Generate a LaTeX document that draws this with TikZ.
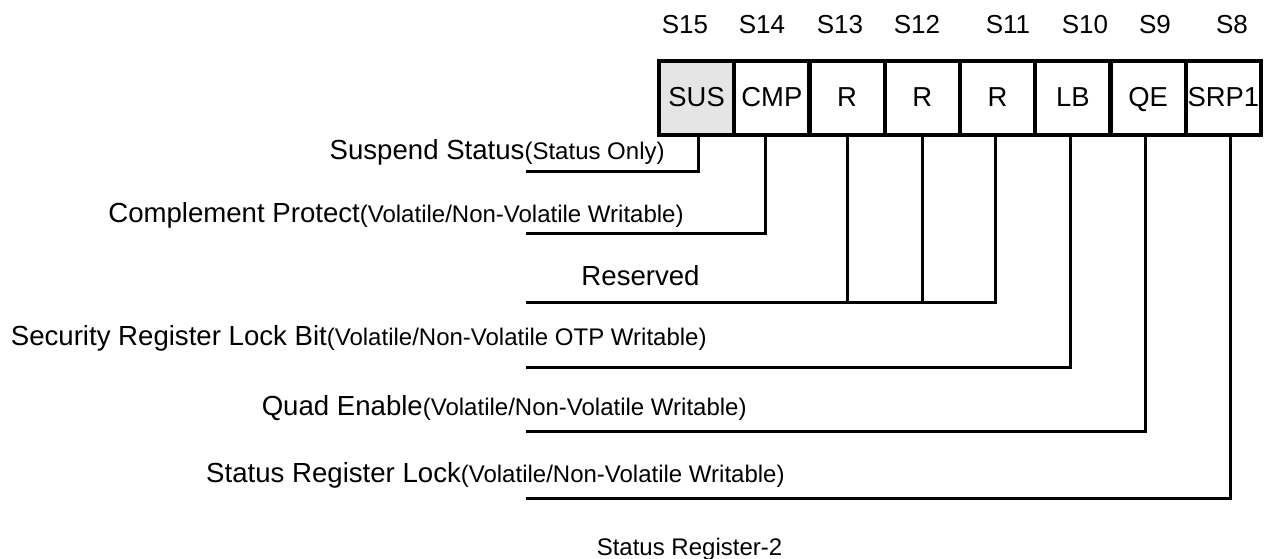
\documentclass[tikz,border=0pt]{standalone}
\usepackage{fontspec}
\setmainfont{Liberation Sans}
\newcommand{\smallnote}[1]{{\fontsize{12}{14}\selectfont #1}}

\begin{document}
\begin{tikzpicture}[x=0.5pt,y=-0.5pt,
		bit/.style={draw, line width=2pt, minimum width=37.6pt, minimum height=37pt, inner sep=0pt, text height=0.9em, text depth=0pt, font=\fontsize{13.7}{16}\selectfont},
		wire/.style={line width=1.5pt},
		desc/.style={anchor=base east, inner sep=0pt, font=\fontsize{13.8}{16}\selectfont},
	]
		\useasboundingbox (0,0) rectangle (1264,558);

		% Draw the register bits S15 ... S8
		\foreach \lab/\col [count=\i] in {SUS/gray!20, CMP/white, R/white, R/white, R/white, LB/white, QE/white, SRP1/white}
			\node[bit, fill=\col] (b\i) at ({659+75.25*(\i-0.5)},97.5) {\lab};

		% Bit numbers above the register
		\foreach \s/\x [count=\i] in {S15/685, S14/762, S13/840, S12/917, S11/1008, S10/1085, S9/1155, S8/1232}
			\node[anchor=base, inner sep=0pt, font=\fontsize{13}{16}\selectfont] (top\i) at (\x,33) {\s};

		% Left ends of the lines
		\coordinate (e1) at (526,171);
		\coordinate (e2) at (526,233);
		\coordinate (e3) at (526,302);
		\coordinate (e4) at (526,367);
		\coordinate (e5) at (526,431);
		\coordinate (e6) at (526,498);

		% Draw the lines from the bits
		\draw[wire] ([xshift=0.7pt]b1.south) |- (e1);
		\draw[wire] ([xshift=-3pt]b2.south) |- (e2);
		\draw[wire] ([xshift=-1.3pt]b5.south) |- (e3);
		\draw[wire] (b3.south) -- (b3.south |- e3);
		\draw[wire] (b4.south) -- (b4.south |- e3);
		\draw[wire] ([xshift=-1pt]b6.south) |- (e4);
		\draw[wire] ([xshift=-1.5pt]b7.south) |- (e5);
		\draw[wire] ([xshift=3.8pt]b8.south) |- (e6);

		% Descriptions of the bits
		\node[desc] (d1) at (665,159) {Suspend Status\smallnote{(Status Only)}};
		\node[desc] (d2) at (684,222) {Complement Protect\smallnote{(Volatile/Non-Volatile Writable)}};
		\node[desc] (d3) at (700,285) {Reserved};
		\node[desc] (d4) at (707,345) {Security Register Lock Bit\smallnote{(Volatile/Non-Volatile OTP Writable)}};
		\node[desc] (d5) at (747,415) {Quad Enable\smallnote{(Volatile/Non-Volatile Writable)}};
		\node[desc] (d6) at (785,482) {Status Register Lock\smallnote{(Volatile/Non-Volatile Writable)}};

		\node[anchor=base, inner sep=0pt, font=\fontsize{12}{14}\selectfont] (cap) at (689.5,555) {Status Register-2};

	\end{tikzpicture}
\end{document}
